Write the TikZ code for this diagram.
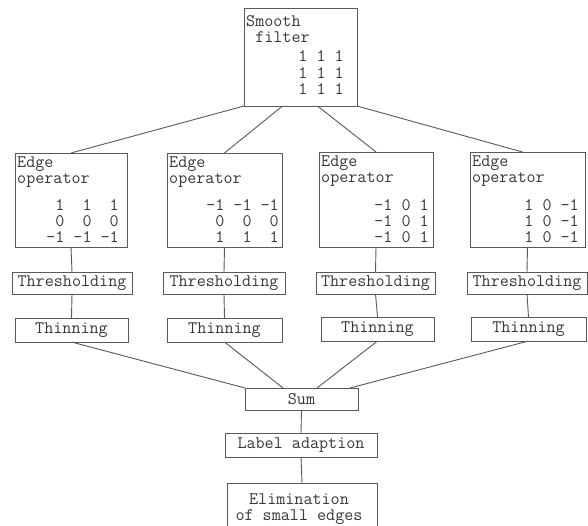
\documentclass[tikz,border=0pt]{standalone}
\usetikzlibrary{calc,fit}
% one blank character cell of the monospaced font
\newcommand\sk{\phantom{0}}
\tikzset{
  box/.style={draw=black!65, line width=0.9pt, inner sep=0pt, outer sep=0pt},
  lbl/.style={inner sep=0pt, font=\ttfamily\fontsize{17.6}{16}\selectfont, text=black!78},
  link/.style={draw=black!65, line width=0.9pt},
}
\begin{document}
\begin{tikzpicture}[x=1pt, y=-1pt]
  \useasboundingbox[fill=white] (0,0) rectangle (588,526);

  % smoothing stage
  \node[box, fit={(244,8)(357,106)}] (smooth) {};
  \node[lbl, anchor=north west, align=left] (smoothh) at ($(smooth.north west)+(2,7)$) {Smooth\\\sk filter};
  \node[lbl, anchor=south east, align=right, font=\ttfamily\fontsize{17.6}{16.5}\selectfont] (smoothm)
    at ($(smooth.south east)+(-13,-11)$) {1\sk1\sk1\\1\sk1\sk1\\1\sk1\sk1};

  % four directional edge operators
  \node[box, fit={(15,153)(127,247)}] (e1) {};
  \node[box, fit={(167,153)(282,247)}] (e2) {};
  \node[box, fit={(319,152)(433,247)}] (e3) {};
  \node[box, fit={(470,152)(585,247)}] (e4) {};
  \foreach \i in {1,...,4}{
    \node[lbl, anchor=north west, align=left] (e\i h) at ($(e\i.north west)+(2,4)$) {Edge\\operator};
  }
  \node[lbl, anchor=south east, align=right] (e1m) at ($(e1.south east)+(-8,-4)$)
    {\sk1\sk\sk1\sk\sk1\\\sk0\sk\sk0\sk\sk0\\-1\sk-1\sk-1};
  \node[lbl, anchor=south east, align=right] (e2m) at ($(e2.south east)+(-3,-4)$)
    {-1\sk-1\sk-1\\\sk0\sk\sk0\sk\sk0\\\sk1\sk\sk1\sk\sk1};
  \node[lbl, anchor=south east, align=right] (e3m) at ($(e3.south east)+(-4,-4)$)
    {-1\sk0\sk1\\-1\sk0\sk1\\-1\sk0\sk1};
  \node[lbl, anchor=south east, align=right] (e4m) at ($(e4.south east)+(-6,-4)$)
    {1\sk0\sk-1\\1\sk0\sk-1\\1\sk0\sk-1};

  % thresholding
  \node[box, fit={(12,272)(132,294)}] (t1) {};
  \node[box, fit={(163,272)(285,294)}] (t2) {};
  \node[box, fit={(316,272)(435,294)}] (t3) {};
  \node[box, fit={(467,272)(587,294)}] (t4) {};
  % thinning
  \node[box, fit={(15,318)(128,342)}] (th1) {};
  \node[box, fit={(167,318)(282,342)}] (th2) {};
  \node[box, fit={(321,317)(434,341)}] (th3) {};
  \node[box, fit={(471,317)(586,341)}] (th4) {};
  \foreach \i in {1,...,4}{
    \node[lbl] (t\i l) at (t\i.center) {Thresholding};
    \node[lbl] (th\i l) at (th\i.center) {Thinning};
  }

  % merging and post-processing
  \node[box, fit={(245,388)(358,410)}] (sum) {};
  \node[lbl] (suml) at (sum.center) {Sum};
  \node[box, fit={(225,433)(377,457)}] (label) {};
  \node[lbl] (labell) at (label.center) {Label adaption};
  \node[box, fit={(227,483)(377,532)}] (elim) {};
  \node[lbl, align=center] (eliml) at (299,509.5) {Elimination\\of small edges};

  % connectors
  \draw[link] (smooth.south west) -- (e1.north);
  \draw[link] ($(smooth.south)+(-18,0)$) -- (e2.north);
  \draw[link] ($(smooth.south)+(17,0)$) -- (e3.north);
  \draw[link] (smooth.south east) -- ($(e4.north)+(-5,0)$);
  \foreach \i in {1,...,4}{
    \draw[link] (e\i.south) -- (t\i.north);
    \draw[link] (t\i.south) -- (th\i.north);
  }
  \draw[link] (th1.south) -- (sum.north west);
  \draw[link] (th2.south) -- ($(sum.north west)+(38,0)$);
  \draw[link] (th3.south) -- ($(sum.north west)+(72,0)$);
  \draw[link] (th4.south) -- ($(sum.north west)+(105,0)$);
  \draw[link] (sum.south) -- (label.north);
  \draw[link] (label.south) -- (elim.north);
\end{tikzpicture}
\end{document}
